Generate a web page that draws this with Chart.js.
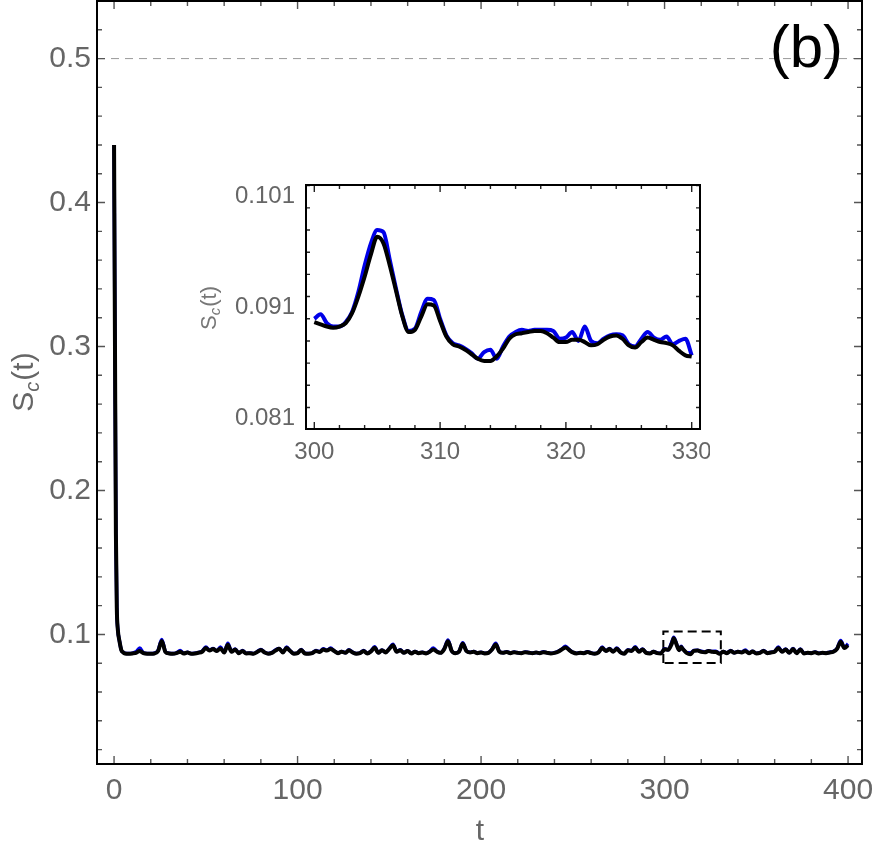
<!DOCTYPE html>
<html>
<head>
<meta charset="utf-8">
<script src="https://cdn.jsdelivr.net/npm/chart.js@4.4.0/dist/chart.umd.min.js"></script>
<style>
  html, body { margin: 0; padding: 0; background: #fff; }
  #wrap { position: relative; width: 875px; height: 861px; }
  #main { position: absolute; left: 0; top: 0; }
  #inset { position: absolute; left: 190px; top: 175px; }
</style>
</head>
<body>
<div id="wrap">
  <canvas id="main" width="875" height="861"></canvas>
  <canvas id="inset" width="520" height="290"></canvas>
</div>
<script>
const FONT = '"Liberation Sans", Arial, sans-serif';

// main panel: time and S_c(t) for the two curves
const mainT = [
  0, 0.5, 1, 1.5, 2, 3, 4, 5, 6, 8,
  10, 12, 14, 16, 18, 20, 22, 24, 26, 28,
  30, 32, 34, 36, 38, 40, 42, 44, 46, 48,
  50, 52, 54, 56, 58, 60, 62, 64, 66, 68,
  70, 72, 74, 76, 78, 80, 82, 84, 86, 88,
  90, 92, 94, 96, 98, 100, 102, 104, 106, 108,
  110, 112, 114, 116, 118, 120, 122, 124, 126, 128,
  130, 132, 134, 136, 138, 140, 142, 144, 146, 148,
  150, 152, 154, 156, 158, 160, 162, 164, 166, 168,
  170, 172, 174, 176, 178, 180, 182, 184, 186, 188,
  190, 192, 194, 196, 198, 200, 202, 204, 206, 208,
  210, 212, 214, 216, 218, 220, 222, 224, 226, 228,
  230, 232, 234, 236, 238, 240, 242, 244, 246, 248,
  250, 252, 254, 256, 258, 260, 262, 264, 266, 268,
  270, 272, 274, 276, 278, 280, 282, 284, 286, 288,
  290, 292, 294, 296, 298, 300, 302, 304, 305, 306,
  308, 309, 310, 312, 314, 316, 318, 320, 322, 324,
  326, 328, 330, 332, 334, 336, 338, 340, 342, 344,
  346, 348, 350, 352, 354, 356, 358, 360, 362, 364,
  366, 368, 370, 372, 374, 376, 378, 380, 382, 384,
  386, 388, 390, 392, 394, 396, 398, 400
];
const mainBlack = [
  0.440, 0.300, 0.170, 0.118, 0.104, 0.095, 0.089, 0.0875, 0.0868, 0.0866,
  0.0868, 0.0872, 0.0885, 0.0870, 0.0866, 0.0866, 0.0868, 0.0885, 0.0955, 0.0878,
  0.0868, 0.0866, 0.0870, 0.0880, 0.0868, 0.0874, 0.0866, 0.0868, 0.0873, 0.0880,
  0.0905, 0.0888, 0.0898, 0.0885, 0.0903, 0.0875, 0.0928, 0.0880, 0.0895, 0.0870,
  0.0885, 0.0868, 0.0870, 0.0866, 0.0878, 0.0892, 0.0875, 0.0866, 0.0872, 0.0888,
  0.0900, 0.0875, 0.0905, 0.0885, 0.0866, 0.0870, 0.0892, 0.0868, 0.0866, 0.0870,
  0.0885, 0.0878, 0.0895, 0.0888, 0.0898, 0.0885, 0.0870, 0.0880, 0.0872, 0.0890,
  0.0875, 0.0866, 0.0870, 0.0885, 0.0868, 0.0882, 0.0908, 0.0872, 0.0890, 0.0875,
  0.0900, 0.0925, 0.0880, 0.0890, 0.0872, 0.0885, 0.0868, 0.0880, 0.0870, 0.0875,
  0.0868, 0.0880, 0.0895, 0.0880, 0.0872, 0.0900, 0.0952, 0.0885, 0.0870, 0.0880,
  0.0935, 0.0885, 0.0875, 0.0880, 0.0870, 0.0875, 0.0868, 0.0872, 0.0895, 0.0930,
  0.0880, 0.0872, 0.0878, 0.0870, 0.0876, 0.0872, 0.0870, 0.0876, 0.0873, 0.0870,
  0.0874, 0.0870, 0.0877, 0.0872, 0.0868, 0.0872, 0.0880, 0.0895, 0.0910, 0.0892,
  0.0875, 0.0868, 0.0872, 0.0870, 0.0878, 0.0870, 0.0866, 0.0875, 0.0905, 0.0885,
  0.0898, 0.0880, 0.0900, 0.0875, 0.0866, 0.0890, 0.0885, 0.0908, 0.0880, 0.0895,
  0.0872, 0.0868, 0.0880, 0.0870, 0.0868, 0.0897, 0.0893, 0.0938, 0.0974, 0.0948,
  0.0890, 0.0913, 0.0898, 0.0872, 0.0862, 0.0886, 0.0889, 0.0879, 0.0876, 0.0885,
  0.0879, 0.0878, 0.0866, 0.0880, 0.0870, 0.0885, 0.0872, 0.0880, 0.0875, 0.0885,
  0.0870, 0.0882, 0.0868, 0.0872, 0.0885, 0.0870, 0.0875, 0.0880, 0.0905, 0.0880,
  0.0895, 0.0872, 0.0898, 0.0870, 0.0895, 0.0868, 0.0872, 0.0870, 0.0876, 0.0868,
  0.0872, 0.0870, 0.0875, 0.0880, 0.0900, 0.0950, 0.0905, 0.0925
];
const mainBlue = [
  0.440, 0.300, 0.170, 0.118, 0.104, 0.095, 0.089, 0.0876, 0.0869, 0.0867,
  0.0870, 0.0880, 0.0905, 0.0872, 0.0867, 0.0867, 0.0870, 0.0890, 0.0965, 0.0880,
  0.0869, 0.0867, 0.0872, 0.0888, 0.0869, 0.0876, 0.0867, 0.0869, 0.0875, 0.0884,
  0.0912, 0.0890, 0.0903, 0.0886, 0.0912, 0.0876, 0.0938, 0.0881, 0.0898, 0.0871,
  0.0888, 0.0869, 0.0871, 0.0867, 0.0880, 0.0896, 0.0876, 0.0867, 0.0874, 0.0892,
  0.0903, 0.0876, 0.0912, 0.0886, 0.0867, 0.0871, 0.0896, 0.0869, 0.0867, 0.0871,
  0.0888, 0.0880, 0.0900, 0.0890, 0.0905, 0.0886, 0.0871, 0.0882, 0.0873, 0.0893,
  0.0876, 0.0867, 0.0871, 0.0888, 0.0869, 0.0884, 0.0915, 0.0873, 0.0892, 0.0876,
  0.0903, 0.0932, 0.0881, 0.0893, 0.0873, 0.0887, 0.0869, 0.0882, 0.0871, 0.0876,
  0.0869, 0.0882, 0.0905, 0.0881, 0.0873, 0.0903, 0.0962, 0.0886, 0.0871, 0.0882,
  0.0942, 0.0886, 0.0876, 0.0881, 0.0871, 0.0876, 0.0869, 0.0873, 0.0898, 0.0938,
  0.0881, 0.0873, 0.0880, 0.0871, 0.0878, 0.0873, 0.0871, 0.0878, 0.0874, 0.0871,
  0.0875, 0.0871, 0.0879, 0.0873, 0.0869, 0.0873, 0.0882, 0.0898, 0.0918, 0.0894,
  0.0876, 0.0869, 0.0873, 0.0871, 0.0880, 0.0871, 0.0867, 0.0876, 0.0912, 0.0886,
  0.0902, 0.0881, 0.0905, 0.0876, 0.0867, 0.0893, 0.0887, 0.0915, 0.0881, 0.0898,
  0.0873, 0.0869, 0.0882, 0.0871, 0.0869, 0.0900, 0.0893, 0.0948, 0.0980, 0.0953,
  0.0891, 0.0918, 0.0900, 0.0873, 0.0872, 0.0888, 0.0890, 0.0883, 0.0878, 0.0886,
  0.0882, 0.0884, 0.0867, 0.0882, 0.0871, 0.0888, 0.0873, 0.0882, 0.0876, 0.0892,
  0.0871, 0.0884, 0.0869, 0.0873, 0.0888, 0.0871, 0.0876, 0.0882, 0.0912, 0.0881,
  0.0898, 0.0873, 0.0902, 0.0871, 0.0898, 0.0869, 0.0873, 0.0871, 0.0878, 0.0869,
  0.0873, 0.0871, 0.0876, 0.0882, 0.0903, 0.0957, 0.0910, 0.0935
];

// inset: zoom on 300..330
const insetT = [
  300, 300.5, 301, 301.5, 302, 302.5, 303, 303.5, 304, 304.5,
  305, 305.5, 306, 306.5, 307, 307.5, 308, 308.5, 309, 309.5,
  310, 310.5, 311, 311.5, 312, 312.5, 313, 313.5, 314, 314.5,
  315, 315.5, 316, 316.5, 317, 317.5, 318, 318.5, 319, 319.5,
  320, 320.5, 321, 321.5, 322, 322.5, 323, 323.5, 324, 324.5,
  325, 325.5, 326, 326.5, 327, 327.5, 328, 328.5, 329, 329.5,
  330
];
const insetBlack = [
  0.0897, 0.0895, 0.0893, 0.0892, 0.0893, 0.0896, 0.0905, 0.0920, 0.0938, 0.0958,
  0.0974, 0.0968, 0.0948, 0.0925, 0.0902, 0.0888, 0.0890, 0.0902, 0.0913, 0.0912,
  0.0898, 0.0884, 0.0877, 0.0875, 0.0872, 0.0868, 0.0864, 0.0862, 0.0862, 0.0866,
  0.0873, 0.0882, 0.0886, 0.0887, 0.0888, 0.0889, 0.0889, 0.0887, 0.0883, 0.0879,
  0.0879, 0.0881, 0.0881, 0.0879, 0.0876, 0.0877, 0.0881, 0.0884, 0.0885, 0.0882,
  0.0876, 0.0874, 0.0879, 0.0883, 0.0881, 0.0879, 0.0878, 0.0876, 0.0871, 0.0867,
  0.0866
];
const insetBlue = [
  0.0900, 0.0904, 0.0896, 0.0893, 0.0893, 0.0897, 0.0906, 0.0924, 0.0948, 0.0968,
  0.0980, 0.0978, 0.0953, 0.0927, 0.0903, 0.0889, 0.0891, 0.0906, 0.0918, 0.0917,
  0.0900, 0.0885, 0.0878, 0.0876, 0.0873, 0.0869, 0.0864, 0.0870, 0.0872, 0.0864,
  0.0875, 0.0884, 0.0888, 0.0890, 0.0889, 0.0890, 0.0890, 0.0890, 0.0889, 0.0882,
  0.0883, 0.0888, 0.0880, 0.0893, 0.0880, 0.0878, 0.0882, 0.0885, 0.0886, 0.0885,
  0.0877, 0.0875, 0.0882, 0.0888, 0.0883, 0.0881, 0.0884, 0.0877, 0.0880, 0.0882,
  0.0867
];

const mainXTicks = [0, 100, 200, 300, 400];
const mainYTicks = [0.1, 0.2, 0.3, 0.4, 0.5];
const insetXTicks = [300, 310, 320, 330];
const insetYTicks = [0.081, 0.091, 0.101];
const halfLevel = 0.5;
const zoomT = [299.34, 330.66];
const zoomS = [0.0801, 0.1021];

const pts = (t, v) => t.map((x, i) => ({ x, y: v[i] }));

// keep chart area exactly where the layout padding puts it
const noOverhang = s => { s.paddingTop = 0; s.paddingBottom = 0; s.paddingLeft = 0; s.paddingRight = 0; };

// inward ticks on all four sides + black frame
const framePlugin = {
  id: 'frame',
  afterDatasetsDraw(chart, args, o) {
    const { ctx, chartArea: a } = chart;
    const sx = chart.scales.x, sy = chart.scales.y;
    const marks = (scale, step, majors) => {
      const out = [];
      for (let k = Math.ceil(scale.min / step - 1e-9); k * step <= scale.max + 1e-12; k++) {
        const v = k * step;
        const major = majors.some(m => Math.abs(m - v) < step / 10);
        out.push([scale.getPixelForValue(v), major ? o.major : o.minor]);
      }
      return out;
    };
    ctx.save();
    ctx.strokeStyle = o.tickColor;
    ctx.lineWidth = 1.4;
    ctx.beginPath();
    marks(sx, o.xStep, o.xMajor).forEach(([p, l]) => {
      ctx.moveTo(p, a.bottom); ctx.lineTo(p, a.bottom - l);
      ctx.moveTo(p, a.top); ctx.lineTo(p, a.top + l);
    });
    marks(sy, o.yStep, o.yMajor).forEach(([p, l]) => {
      ctx.moveTo(a.left, p); ctx.lineTo(a.left + l, p);
      ctx.moveTo(a.right, p); ctx.lineTo(a.right - l, p);
    });
    ctx.stroke();
    ctx.strokeStyle = '#000';
    ctx.lineWidth = o.frameWidth;
    ctx.strokeRect(a.left, a.top, a.right - a.left, a.bottom - a.top);
    ctx.restore();
  }
};

// axis titles and panel tag
const textPlugin = {
  id: 'texts',
  afterDraw(chart, args, o) {
    const ctx = chart.ctx;
    const big = o.size, small = Math.round(o.size * 0.68);
    ctx.save();
    ctx.fillStyle = o.color;
    ctx.textBaseline = 'alphabetic';
    ctx.font = big + 'px ' + FONT;
    const wS = ctx.measureText('S').width, wT = ctx.measureText('(t)').width;
    ctx.font = 'italic ' + small + 'px ' + FONT;
    const wc = ctx.measureText('c').width;
    const w = wS + wc + wT + 1;
    ctx.translate(o.yTitle[0], o.yTitle[1]);
    ctx.rotate(-Math.PI / 2);
    let x0 = -w / 2;
    const base = big * 0.36;
    ctx.font = big + 'px ' + FONT; ctx.fillText('S', x0, base); x0 += wS;
    ctx.font = 'italic ' + small + 'px ' + FONT; ctx.fillText('c', x0, base + big * 0.2); x0 += wc + 1;
    ctx.font = big + 'px ' + FONT; ctx.fillText('(t)', x0, base);
    ctx.restore();
    if (o.xTitle) {
      ctx.save();
      ctx.fillStyle = o.color;
      ctx.font = big + 'px ' + FONT;
      ctx.textAlign = 'center';
      ctx.textBaseline = 'middle';
      ctx.fillText(o.xTitle, o.xTitlePos[0], o.xTitlePos[1]);
      ctx.restore();
    }
    if (o.tag) {
      ctx.save();
      ctx.fillStyle = '#000';
      ctx.font = o.tagSize + 'px ' + FONT;
      ctx.textAlign = 'right';
      ctx.fillText(o.tag, o.tagPos[0], o.tagPos[1]);
      ctx.restore();
    }
  }
};

new Chart(document.getElementById('main'), {
  type: 'line',
  data: {
    datasets: [
      { data: pts(mainT, mainBlack), borderColor: '#000', borderWidth: 4, cubicInterpolationMode: 'monotone' },
      { data: pts(mainT, mainBlue), borderColor: '#0000e8', borderWidth: 3.5, cubicInterpolationMode: 'monotone' },
      { data: [{ x: -9.3, y: halfLevel }, { x: 407.6, y: halfLevel }], borderColor: '#999', borderWidth: 1, borderDash: [8, 6] },
      {
        data: [
          { x: zoomT[0], y: zoomS[0] }, { x: zoomT[0], y: zoomS[1] },
          { x: zoomT[1], y: zoomS[1] }, { x: zoomT[1], y: zoomS[0] },
          { x: zoomT[0], y: zoomS[0] }
        ],
        borderColor: '#000', borderWidth: 2, borderDash: [9, 5]
      }
    ]
  },
  options: {
    responsive: false,
    animation: false,
    events: [],
    layout: { padding: { top: 1, right: 13, left: 0, bottom: 0 } },
    elements: { point: { radius: 0 }, line: { tension: 0 } },
    scales: {
      x: {
        type: 'linear', min: -9.3, max: 407.6,
        grid: { display: false, drawTicks: false }, border: { display: false },
        afterBuildTicks: s => { s.ticks = mainXTicks.map(v => ({ value: v })); },
        afterFit: s => { s.height = 97; noOverhang(s); },
        ticks: { font: { family: FONT, size: 30 }, color: '#666', padding: 9, maxRotation: 0, callback: v => String(v) }
      },
      y: {
        type: 'linear', min: 0.01, max: 0.54,
        grid: { display: false, drawTicks: false }, border: { display: false },
        afterBuildTicks: s => { s.ticks = mainYTicks.map(v => ({ value: v })); },
        afterFit: s => { s.width = 97; noOverhang(s); },
        ticks: { font: { family: FONT, size: 30 }, color: '#666', padding: 6, callback: v => v.toFixed(1) }
      }
    },
    plugins: {
      legend: { display: false },
      tooltip: { enabled: false },
      frame: { tickColor: '#555', major: 8, minor: 5, frameWidth: 2, xStep: 20, yStep: 0.02, xMajor: mainXTicks, yMajor: mainYTicks },
      texts: { color: '#666', size: 30, yTitle: [22, 382], xTitle: 't', xTitlePos: [480, 832], tag: '(b)', tagSize: 60, tagPos: [843, 67] }
    }
  },
  plugins: [framePlugin, textPlugin]
});

new Chart(document.getElementById('inset'), {
  type: 'line',
  data: {
    datasets: [
      { data: pts(insetT, insetBlack), borderColor: '#000', borderWidth: 4, cubicInterpolationMode: 'monotone' },
      { data: pts(insetT, insetBlue), borderColor: '#0000e8', borderWidth: 4, cubicInterpolationMode: 'monotone' }
    ]
  },
  options: {
    responsive: false,
    animation: false,
    events: [],
    layout: { padding: { top: 10, right: 10, left: 0, bottom: 0 } },
    elements: { point: { radius: 0 }, line: { tension: 0 } },
    scales: {
      x: {
        type: 'linear', min: 299.34, max: 330.66,
        grid: { display: false, drawTicks: false }, border: { display: false },
        afterBuildTicks: s => { s.ticks = insetXTicks.map(v => ({ value: v })); },
        afterFit: s => { s.height = 36; noOverhang(s); },
        ticks: { font: { family: FONT, size: 24 }, color: '#666', padding: 9, maxRotation: 0, callback: v => String(v) }
      },
      y: {
        type: 'linear', min: 0.08006, max: 0.10206,
        grid: { display: false, drawTicks: false }, border: { display: false },
        afterBuildTicks: s => { s.ticks = insetYTicks.map(v => ({ value: v })); },
        afterFit: s => { s.width = 116; noOverhang(s); },
        ticks: { font: { family: FONT, size: 24 }, color: '#666', padding: 11, callback: v => v.toFixed(3) }
      }
    },
    plugins: {
      legend: { display: false },
      tooltip: { enabled: false },
      frame: { tickColor: '#222', major: 7, minor: 4, frameWidth: 2, xStep: 2, yStep: 0.002, xMajor: insetXTicks, yMajor: insetYTicks },
      texts: { color: '#777', size: 22, yTitle: [18, 133] }
    }
  },
  plugins: [framePlugin, textPlugin]
});
</script>
</body>
</html>
